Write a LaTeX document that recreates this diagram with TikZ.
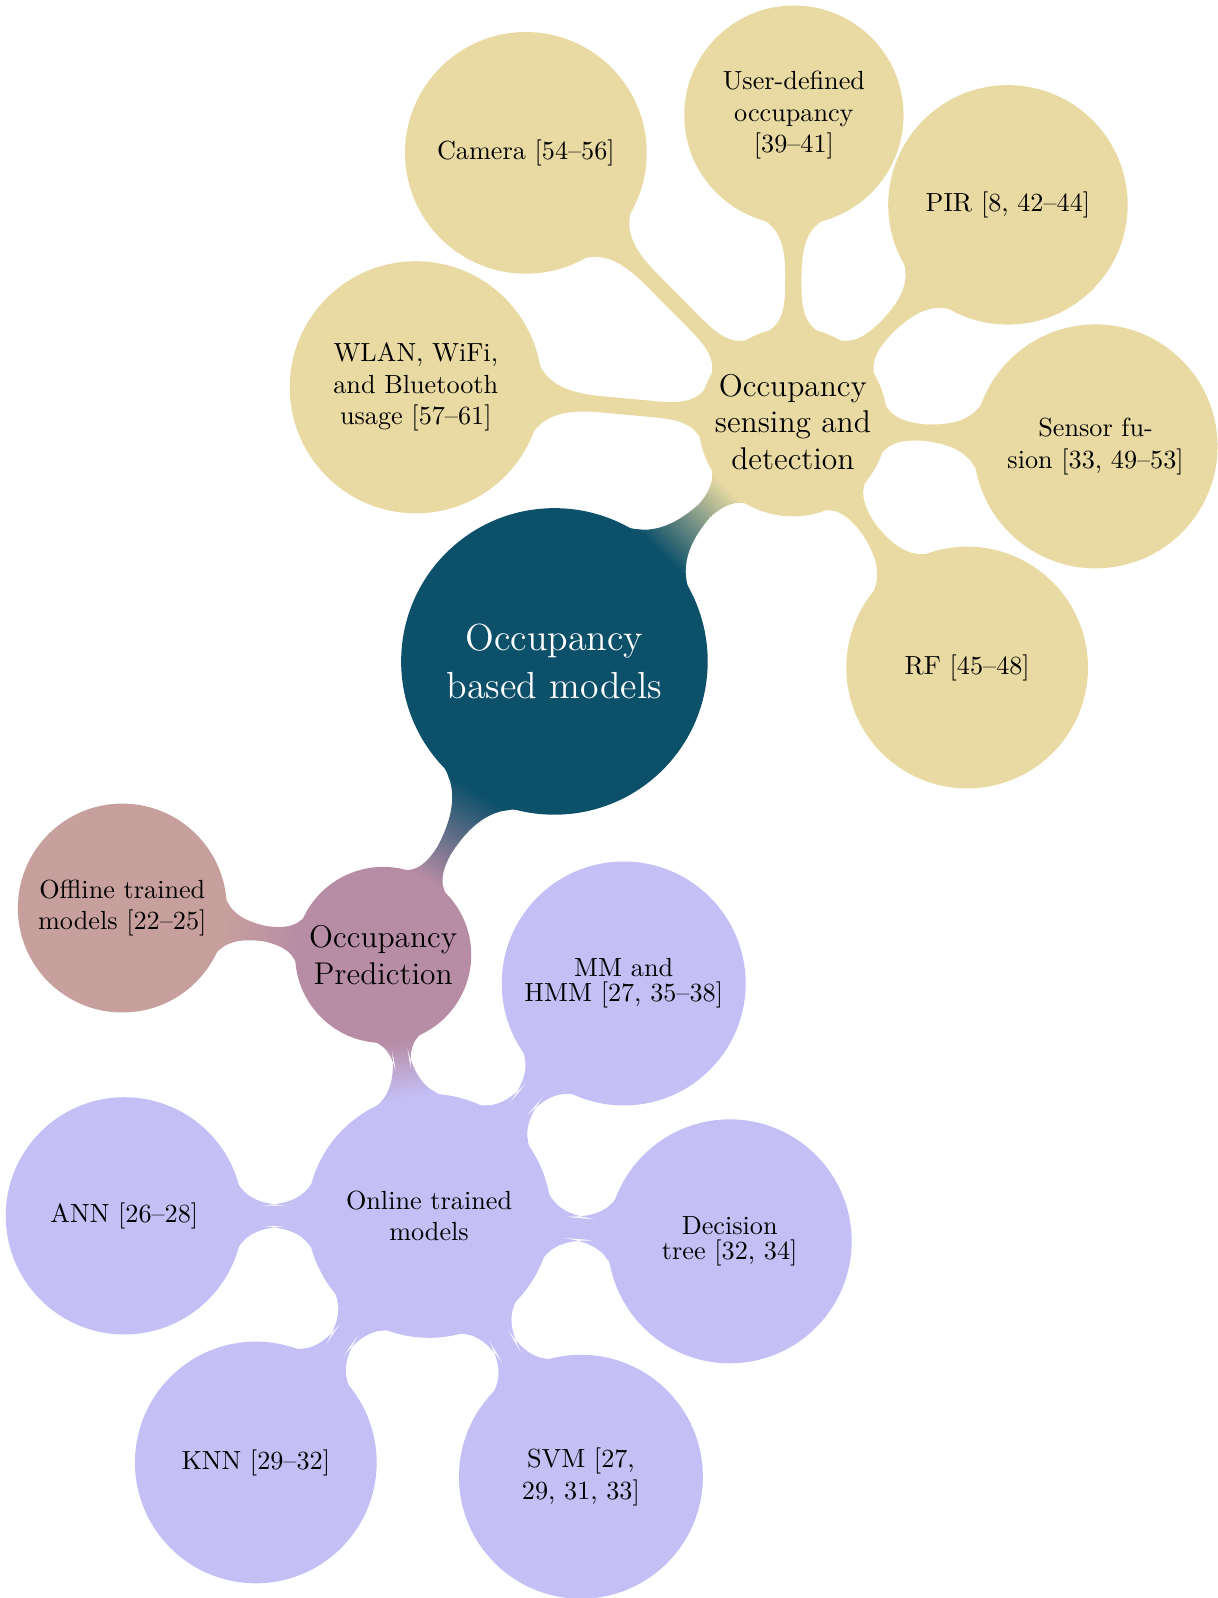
\documentclass[tikz,border=0pt]{standalone}
\usepackage{tikz}
\usetikzlibrary{mindmap}

\definecolor{occblue}{RGB}{12,80,106}
\definecolor{senscol}{RGB}{233,218,163}
\definecolor{predcol}{RGB}{183,140,165}
\definecolor{offcol}{RGB}{199,159,156}
\definecolor{oncol}{RGB}{196,191,245}

\begin{document}
\begin{tikzpicture}[mindmap, x=0.01367cm, y=-0.01367cm,
    bubble/.style={concept, text width={}, inner sep=0pt, align=center, text=black, font=\normalsize},
    occroot/.style={bubble, concept color=occblue, text=white, font=\Large},
    sensleaf/.style={bubble, concept color=senscol},
    onleaf/.style={bubble, concept color=oncol}]
    \useasboundingbox (0,0) rectangle (1195,1568);

    \node [occroot, minimum size=4.07cm] (occ) at (544,649) {Occupancy\\based models};
    \node [bubble, concept color=senscol, font=\large, minimum size=2.49cm] (sens) at (778,414) {Occupancy\\sensing and\\detection};
    \node [bubble, concept color=predcol, font=\large, minimum size=2.32cm] (pred) at (376,937) {Occupancy\\Prediction};

    \node [sensleaf, minimum size=3.2cm] (cam) at (516,150) {Camera [54--56]};
    \node [sensleaf, minimum size=2.9cm] (user) at (779,113) {User-defined\\occupancy\\{[39--41]}};
    \node [sensleaf, minimum size=3.17cm] (pir) at (989,201) {PIR [8, 42--44]};
    \node [sensleaf, minimum size=3.23cm] (fus) at (1075,438) {Sensor fu-\\sion [33, 49--53]};
    \node [sensleaf, minimum size=3.2cm] (rf) at (949,655) {RF [45--48]};
    \node [sensleaf, minimum size=3.34cm] (wlan) at (408,380) {WLAN, WiFi,\\and Bluetooth\\usage [57--61]};

    \node [bubble, concept color=offcol, minimum size=2.76cm] (off) at (120,891) {Offline trained\\models [22--25]};
    \node [onleaf, minimum size=3.23cm] (on) at (421,1193) {Online trained\\models};

    \node [onleaf, minimum size=3.23cm] (mm) at (612,965) {MM and\\[-2.5pt]HMM [27, 35--38]};
    \node [onleaf, minimum size=3.23cm] (dt) at (716,1218) {Decision\\[-2.5pt]tree [32, 34]};
    \node [onleaf, minimum size=3.23cm] (svm) at (570,1449) {SVM [27,\\29, 31, 33]};
    \node [onleaf, minimum size=3.2cm] (knn) at (251,1435) {KNN [29--32]};
    \node [onleaf, minimum size=3.14cm] (ann) at (122,1193) {ANN [26--28]};

    \path (occ) to[circle connection bar switch color=from (occblue) to (senscol)] (sens);
    \path (occ) to[circle connection bar switch color=from (occblue) to (predcol)] (pred);
    \path (sens) to[circle connection bar switch color=from (senscol) to (senscol)] (cam);
    \path (sens) to[circle connection bar switch color=from (senscol) to (senscol)] (user);
    \path (sens) to[circle connection bar switch color=from (senscol) to (senscol)] (pir);
    \path (sens) to[circle connection bar switch color=from (senscol) to (senscol)] (fus);
    \path (sens) to[circle connection bar switch color=from (senscol) to (senscol)] (rf);
    \path (sens) to[circle connection bar switch color=from (senscol) to (senscol)] (wlan);
    \path (pred) to[circle connection bar switch color=from (predcol) to (offcol)] (off);
    \path (pred) to[circle connection bar switch color=from (predcol) to (oncol)] (on);
    \path (on) to[circle connection bar switch color=from (oncol) to (oncol)] (mm);
    \path (on) to[circle connection bar switch color=from (oncol) to (oncol)] (dt);
    \path (on) to[circle connection bar switch color=from (oncol) to (oncol)] (svm);
    \path (on) to[circle connection bar switch color=from (oncol) to (oncol)] (knn);
    \path (on) to[circle connection bar switch color=from (oncol) to (oncol)] (ann);
\end{tikzpicture}
\end{document}
